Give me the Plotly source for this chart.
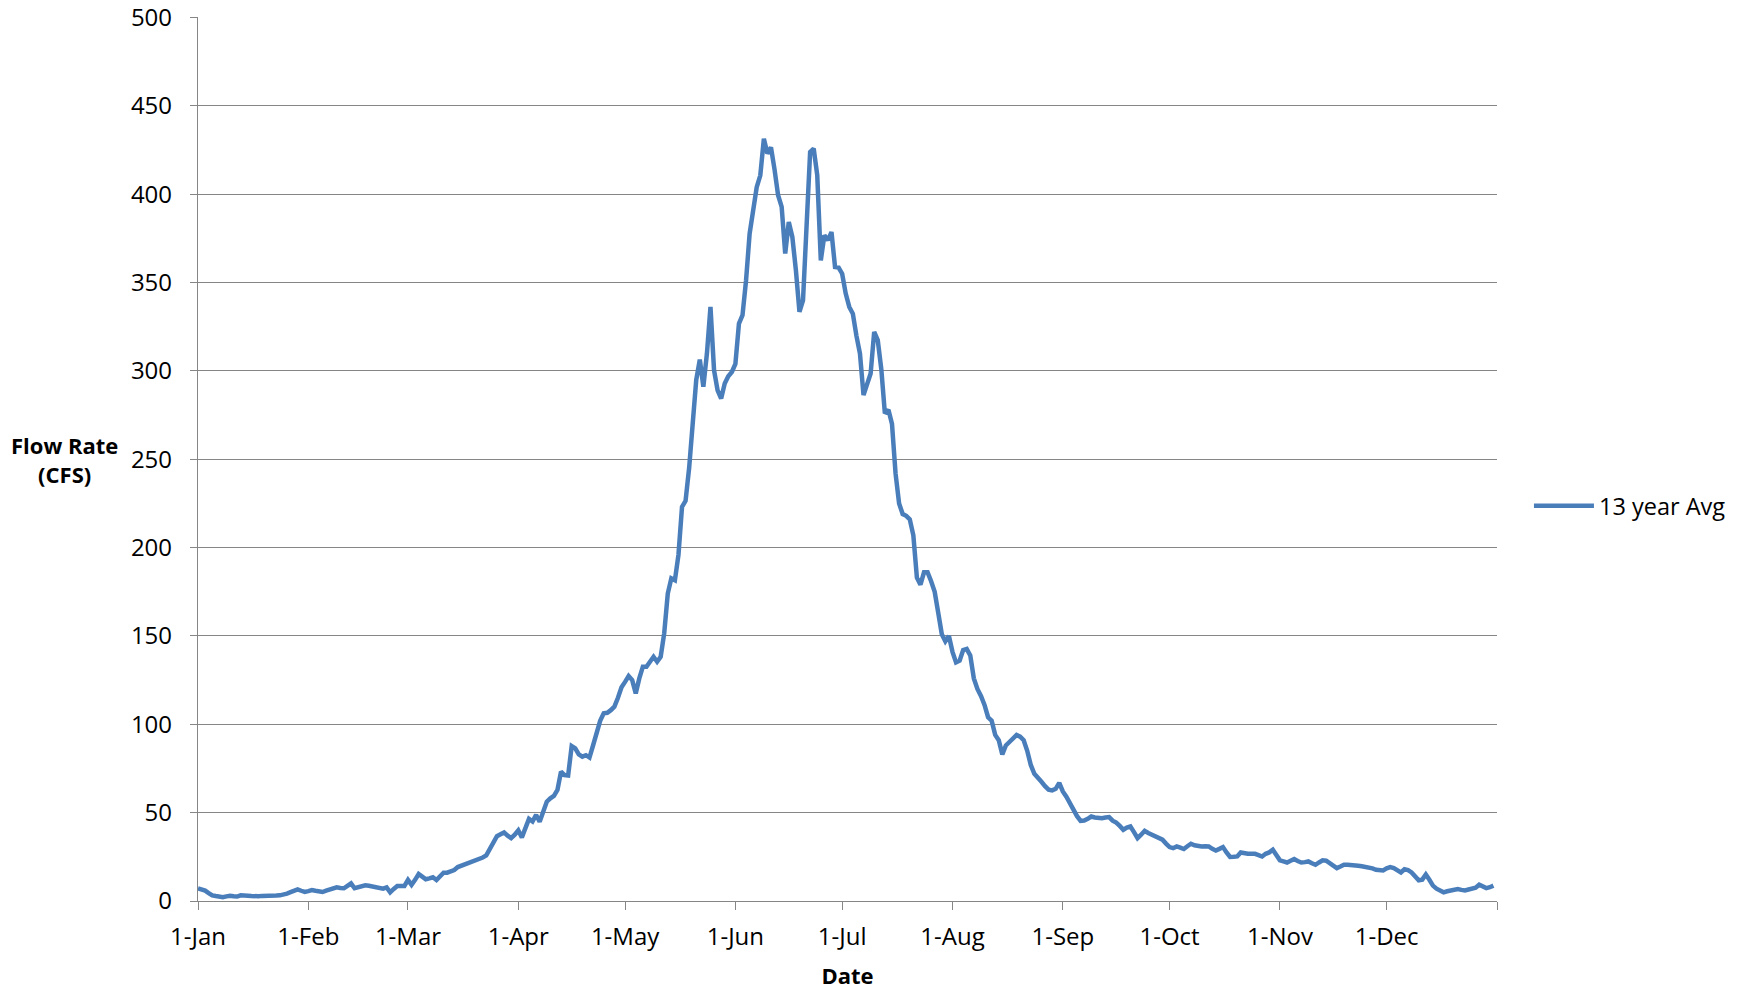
import pandas as pd
import plotly.graph_objects as go

# Daily 13-year average flow rate (CFS), one list per month
jan = [7.2, 6.5, 5.9, 4.5, 3.2, 2.8, 2.5, 2.1, 2.6, 3.0, 2.7, 2.5, 3.2, 3.4, 3.0, 2.8,
       2.6, 2.7, 2.9, 2.8, 2.8, 2.9, 3.1, 3.2, 3.4, 4.2, 5.0, 5.8, 6.6, 5.8, 5.1]
feb = [5.6, 6.2, 5.8, 5.3, 5.1, 5.9, 6.6, 7.0, 7.7, 7.4, 7.2, 8.6, 10.0, 7.2, 7.8, 8.4,
       8.9, 8.6, 8.2, 7.7, 7.4, 7.0, 7.7, 4.9, 6.8, 8.5, 8.5, 8.5]
mar = [11.9, 9.1, 12.0, 15.3, 13.8, 12.3, 12.8, 13.4, 11.9, 13.8, 16.0, 16.0, 16.5, 17.5,
       19.2, 20.0, 20.9, 21.5, 22.2, 23.0, 23.5, 24.6, 25.8, 29.5, 32.5, 36.7, 37.8, 38.8,
       37.0, 35.6, 37.5]
apr = [40.0, 36.0, 41.5, 46.5, 45.0, 48.7, 44.9, 50.5, 56.2, 58.1, 59.5, 62.8, 73.2, 71.3,
       71.0, 87.7, 86.4, 83.0, 81.7, 82.5, 81.2, 88.0, 95.0, 102.0, 106.2, 106.5, 108.0,
       110.0, 115.0, 121.0]
may = [124.0, 127.3, 125.0, 117.5, 126.0, 132.6, 132.6, 135.0, 138.2, 135.4, 138.2, 151.5,
       174.0, 182.6, 181.5, 195.8, 223.0, 226.5, 245.0, 270.0, 295.0, 306.4, 291.0, 309.8,
       336.2, 300.4, 289.0, 284.4, 292.9, 297.0, 299.4]
jun = [304.0, 326.8, 331.5, 351.3, 377.7, 392.8, 404.1, 410.7, 431.4, 423.0, 426.5, 414.0,
       399.4, 392.8, 366.4, 384.3, 375.8, 357.0, 333.4, 340.0, 385.2, 423.9, 425.8, 410.7,
       362.6, 376.8, 374.0, 378.6, 358.8, 358.5]
jul = [355.0, 343.8, 336.2, 332.4, 320.0, 309.8, 286.3, 292.9, 298.5, 322.1, 317.4, 301.0,
       276.0, 278.0, 270.0, 242.0, 225.0, 219.0, 218.0, 216.0, 207.0, 183.0, 179.0, 186.0,
       186.0, 181.0, 175.0, 163.0, 151.0, 147.0, 150.0]
aug = [141.0, 135.0, 136.0, 142.0, 142.6, 139.0, 126.0, 120.0, 116.0, 111.0, 104.0, 102.0,
       94.0, 91.0, 83.0, 88.0, 90.0, 92.0, 94.0, 93.0, 91.0, 85.0, 77.0, 72.0, 70.0, 67.5,
       65.0, 63.0, 62.6, 63.5, 66.9]
sep = [62.0, 59.0, 55.0, 51.0, 48.0, 45.3, 45.5, 46.5, 47.8, 47.3, 47.0, 46.9, 47.3, 47.5,
       45.5, 44.4, 42.5, 40.3, 41.5, 42.2, 39.0, 35.6, 37.5, 39.7, 38.5, 37.5, 36.2, 35.0,
       34.7, 32.5]
oct_ = [30.5, 29.9, 30.9, 30.2, 29.4, 31.0, 32.4, 31.5, 30.9, 30.9, 31.0, 30.9, 29.5, 28.6,
        29.5, 30.5, 27.5, 24.9, 25.0, 25.2, 27.5, 27.0, 26.8, 26.7, 26.7, 26.0, 25.2, 26.7,
        27.5, 29.0, 26.0]
nov = [23.0, 22.4, 21.8, 22.8, 23.7, 22.6, 21.8, 22.0, 22.4, 21.4, 20.5, 21.8, 23.0, 22.8,
       21.5, 20.2, 18.6, 19.5, 20.5, 20.5, 20.5, 20.2, 20.0, 19.7, 19.4, 19.2, 18.5, 17.7,
       17.5, 17.3]
dec = [18.5, 19.2, 18.6, 17.5, 16.2, 18.0, 17.5, 16.2, 13.5, 11.7, 12.1, 15.0, 12.0, 8.7,
       7.0, 6.0, 4.9, 5.5, 6.0, 6.5, 6.8, 6.3, 6.0, 6.5, 6.8, 7.5, 9.2, 8.0, 7.3, 7.8, 8.7]

flow = jan + feb + mar + apr + may + jun + jul + aug + sep + oct_ + nov + dec
dates = pd.date_range("2013-01-01", periods=len(flow), freq="D")

month_ticks = ["2013-01-01", "2013-02-01", "2013-03-01", "2013-04-01", "2013-05-01",
               "2013-06-01", "2013-07-01", "2013-08-01", "2013-09-01", "2013-10-01",
               "2013-11-01", "2013-12-01", "2014-01-01"]
month_labels = ["1-Jan", "1-Feb", "1-Mar", "1-Apr", "1-May", "1-Jun", "1-Jul", "1-Aug",
                "1-Sep", "1-Oct", "1-Nov", "1-Dec", ""]
y_ticks = [0, 50, 100, 150, 200, 250, 300, 350, 400, 450, 500]

FONT = "Open Sans"
GRID = "#868686"

fig = go.Figure()
fig.add_trace(go.Scatter(
    x=dates, y=flow, mode="lines", name="13 year Avg",
    line=dict(color="#4A7EBB", width=4.5),
))

# the page body adds an 8px offset, so the figure is 8px smaller than the window
fig.update_layout(
    width=1734, height=982,
    margin=dict(l=190, r=245, t=9, b=89, autoexpand=False),
    paper_bgcolor="white", plot_bgcolor="white",
    font=dict(family=FONT, size=24, color="black"),
    showlegend=True,
    legend=dict(x=1.0246, xanchor="left", y=0.447, yanchor="middle",
                font=dict(family=FONT, size=23.5, color="black"),
                itemwidth=60, bgcolor="rgba(0,0,0,0)"),
    xaxis=dict(
        type="date", range=["2013-01-01", "2014-01-01"],
        tickvals=month_ticks, ticktext=month_labels,
        ticks="outside", ticklen=8, tickcolor=GRID, tickwidth=1.3,
        showline=True, linecolor=GRID, linewidth=1.3,
        showgrid=False, zeroline=False, automargin=False,
        ticklabelstandoff=6, ticklabeloverflow="allow",
        tickfont=dict(family=FONT, size=24, color="black"),
        title=dict(text="<b>Date</b>", font=dict(family=FONT, size=22, color="black"),
                   standoff=18),
    ),
    yaxis=dict(
        range=[0, 500.3], tickvals=y_ticks,
        ticks="outside", ticklen=7, tickcolor=GRID, tickwidth=1.3,
        showline=True, linecolor=GRID, linewidth=1.3,
        showgrid=True, gridcolor=GRID, gridwidth=1.3,
        zeroline=False, automargin=False,
        ticklabelstandoff=13, ticklabeloverflow="allow",
        tickfont=dict(family=FONT, size=24, color="black"),
    ),
    annotations=[dict(
        text="<b>Flow Rate<br>(CFS)</b>", xref="paper", yref="paper",
        x=-0.103, y=0.499, xanchor="center", yanchor="middle", showarrow=False,
        font=dict(family=FONT, size=22, color="black"), align="center",
    )],
)

fig.write_html("out.html")
